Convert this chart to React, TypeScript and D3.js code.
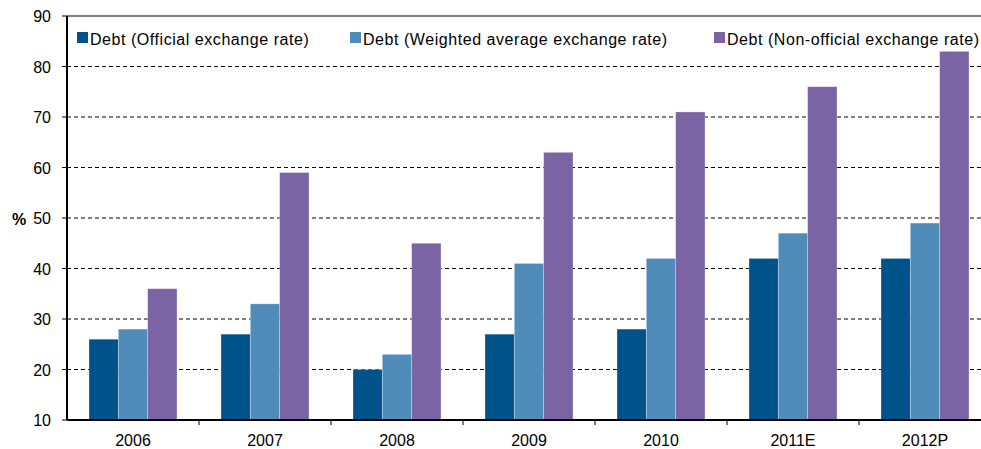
import React from "react";
import * as d3 from "d3";

const categories = ["2006", "2007", "2008", "2009", "2010", "2011E", "2012P"];
const seriesNames = [
  "Debt (Official exchange rate)",
  "Debt (Weighted average exchange rate)",
  "Debt (Non-official exchange rate)",
];
const official = [26, 27, 20, 27, 28, 42, 42];
const weighted = [28, 33, 23, 41, 42, 47, 49];
const nonOfficial = [36, 59, 45, 63, 71, 76, 83];
const yTicks = [10, 20, 30, 40, 50, 60, 70, 80, 90];
const colors = ["#00538A", "#4F8CBA", "#7A64A3"];

const W = 981;
const H = 449;
const left = 67;
const right = 991;
const top = 16;
const bottom = 420;
const font = "'Liberation Sans', Arial, sans-serif";

export default function App() {
  const series = [official, weighted, nonOfficial];
  const x = d3.scaleBand().domain(categories).range([left, right]).paddingInner(0).paddingOuter(0);
  const inner = d3
    .scaleBand()
    .domain(["0", "1", "2"])
    .range([0, x.bandwidth()])
    .paddingOuter(0.75)
    .paddingInner(0);
  const y = d3.scaleLinear().domain([10, 90]).range([bottom, top]);

  const legendX = [77, 350, 714];

  return (
    <svg width={W} height={H} style={{ position: "absolute", left: 0, top: 0, background: "#fff" }}>
      {yTicks.map((t) => (
        <g key={t}>
          {t !== 10 && (
            <line
              x1={left}
              x2={right}
              y1={y(t)}
              y2={y(t)}
              stroke="#000"
              strokeWidth={1}
              strokeDasharray={t === 90 ? undefined : "4,3"}
            />
          )}
          <line x1={left - 5} x2={left} y1={y(t)} y2={y(t)} stroke="#000" strokeWidth={1} />
          <text x={left - 16} y={y(t) + 6} textAnchor="end" fontSize={16} fontFamily={font} fill="#000">
            {t}
          </text>
        </g>
      ))}
      {series.map((vals, si) =>
        vals.map((v, ci) => (
          <rect
            key={`${si}-${ci}`}
            x={(x(categories[ci]) as number) + (inner(String(si)) as number)}
            y={y(v)}
            width={inner.bandwidth()}
            height={bottom - y(v)}
            fill={colors[si]}
            stroke="#ffffff"
            strokeOpacity={0.35}
            strokeWidth={0.8}
          />
        ))
      )}
      <line x1={left} x2={left} y1={top} y2={bottom} stroke="#000" strokeWidth={2} />
      <line x1={left} x2={right} y1={bottom} y2={bottom} stroke="#000" strokeWidth={2} />
      {categories.map((c, i) =>
        i > 0 ? (
          <line key={c} x1={x(c)} x2={x(c)} y1={bottom} y2={bottom + 5} stroke="#000" strokeWidth={1} />
        ) : null
      )}
      {categories.map((c) => (
        <text
          key={c}
          x={(x(c) as number) + x.bandwidth() / 2}
          y={446}
          textAnchor="middle"
          fontSize={16}
          fontFamily={font}
          fill="#000"
        >
          {c}
        </text>
      ))}
      <text x={12} y={225} fontSize={16} fontWeight="bold" fontFamily={font} fill="#000">
        %
      </text>
      {seriesNames.map((n, i) => (
        <g key={n}>
          <rect x={legendX[i]} y={32} width={11} height={11} fill={colors[i]} />
          <text
            x={legendX[i] + 13}
            y={45}
            fontSize={16}
            letterSpacing={0.55}
            fontFamily={font}
            fill="#000"
          >
            {n}
          </text>
        </g>
      ))}
    </svg>
  );
}
